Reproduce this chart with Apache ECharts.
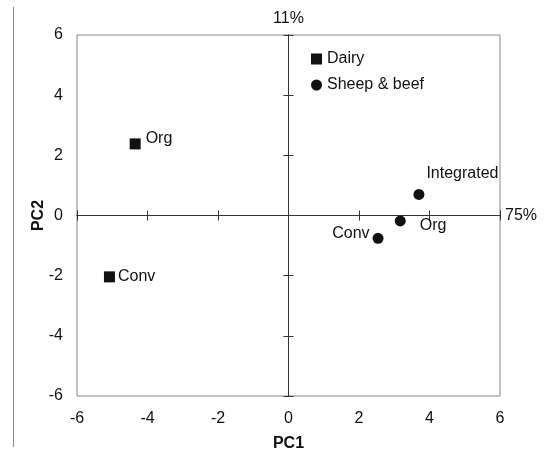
<!DOCTYPE html>
<html>
<head>
<meta charset="utf-8">
<script src="https://cdn.jsdelivr.net/npm/echarts@6/dist/echarts.min.js"></script>
<style>
  html, body { margin: 0; padding: 0; background: #fff; }
  #chart { width: 550px; height: 451px; }
</style>
</head>
<body>
<div id="chart"></div>
<script>
// PCA scores of farm systems (PC1 vs PC2)
const axisMin = -6;
const axisMax = 6;
const axisStep = 2;

const dairyNames = ['Org', 'Conv'];
const dairyPC1 = [-4.35, -5.08];
const dairyPC2 = [2.38, -2.04];

const sheepNames = ['Integrated', 'Org', 'Conv'];
const sheepPC1 = [3.70, 3.17, 2.54];
const sheepPC2 = [0.70, -0.18, -0.76];

const pc1Explained = '75%';
const pc2Explained = '11%';

// label placement for each point (position, distance, offset)
const dairyLabelPlace = [
  { position: 'right', distance: 5, offset: [0, -5] },
  { position: 'right', distance: 3, offset: [0, 0] }
];
const sheepLabelPlace = [
  { position: 'right', distance: 2, offset: [0, -21] },
  { position: 'right', distance: 14, offset: [0, 5] },
  { position: 'left', distance: 3, offset: [0, -5] }
];

const ink = '#111';
const frameColor = '#868686';
const crossColor = '#333';
const rect = { left: 77, top: 35, width: 423, height: 361, outerBoundsMode: 'none', containLabel: false };

function points(names, xs, ys, place) {
  return names.map((n, i) => ({
    name: n,
    value: [xs[i], ys[i]],
    label: Object.assign({ show: true }, place[i])
  }));
}

const scale = { type: 'value', min: axisMin, max: axisMax, interval: axisStep, splitLine: { show: false } };

function crossAxis(pos, gridIndex, extra) {
  return Object.assign({}, scale, {
    gridIndex: gridIndex,
    position: pos,
    axisLine: { show: true, onZero: true, lineStyle: { color: crossColor, width: 1 } },
    axisTick: { show: true, length: 5, lineStyle: { color: crossColor, width: 1 } },
    axisLabel: { show: false }
  }, extra || {});
}

const chart = echarts.init(document.getElementById('chart'), null, { renderer: 'canvas' });

const pointLabel = { fontSize: 16, color: ink, opacity: 1, formatter: '{b}' };
const pointStyle = { color: '#111', opacity: 1 };

chart.setOption({
  animation: false,
  textStyle: { fontFamily: 'Liberation Sans, Arial, sans-serif' },
  grid: [
    Object.assign({ show: true, borderColor: frameColor, borderWidth: 1, backgroundColor: 'transparent' }, rect),
    Object.assign({}, rect)
  ],
  legend: {
    orient: 'vertical',
    left: 311,
    top: 51,
    padding: 0,
    itemWidth: 11,
    itemHeight: 11,
    itemGap: 10,
    textStyle: { fontSize: 16, color: ink },
    data: [
      { name: 'Dairy', icon: 'rect' },
      { name: 'Sheep & beef', icon: 'circle' }
    ]
  },
  xAxis: [
    Object.assign({}, scale, {
      gridIndex: 0,
      position: 'bottom',
      axisLine: { show: false, onZero: false },
      axisTick: { show: false },
      axisLabel: { fontSize: 16, color: ink, margin: 15 },
      name: 'PC1',
      nameLocation: 'middle',
      nameGap: 40,
      nameTextStyle: { fontSize: 16, fontWeight: 'bold', color: ink }
    }),
    crossAxis('bottom', 1, {
      name: pc1Explained,
      nameLocation: 'end',
      nameGap: 5,
      nameTextStyle: { fontSize: 16, color: ink }
    }),
    crossAxis('top', 1)
  ],
  yAxis: [
    Object.assign({}, scale, {
      gridIndex: 0,
      position: 'left',
      axisLine: { show: false, onZero: false },
      axisTick: { show: false },
      axisLabel: { fontSize: 16, color: ink, margin: 14 },
      name: 'PC2',
      nameLocation: 'middle',
      nameRotate: 90,
      nameGap: 30,
      nameMoveOverlap: false,
      nameTextStyle: { fontSize: 16, fontWeight: 'bold', color: ink }
    }),
    crossAxis('left', 1, {
      name: pc2Explained,
      nameLocation: 'end',
      nameGap: 8,
      nameTextStyle: { fontSize: 16, color: ink }
    }),
    crossAxis('right', 1)
  ],
  graphic: [{
    type: 'line',
    shape: { x1: 13.5, y1: 7, x2: 13.5, y2: 447 },
    style: { stroke: '#8c8c8c', lineWidth: 1 }
  }],
  series: [
    {
      name: 'Dairy',
      type: 'scatter',
      xAxisIndex: 0,
      yAxisIndex: 0,
      symbol: 'rect',
      symbolSize: 11,
      itemStyle: pointStyle,
      label: pointLabel,
      data: points(dairyNames, dairyPC1, dairyPC2, dairyLabelPlace),
      z: 5
    },
    {
      name: 'Sheep & beef',
      type: 'scatter',
      xAxisIndex: 0,
      yAxisIndex: 0,
      symbol: 'circle',
      symbolSize: 11,
      itemStyle: pointStyle,
      label: pointLabel,
      data: points(sheepNames, sheepPC1, sheepPC2, sheepLabelPlace),
      z: 5
    }
  ]
});
</script>
</body>
</html>
